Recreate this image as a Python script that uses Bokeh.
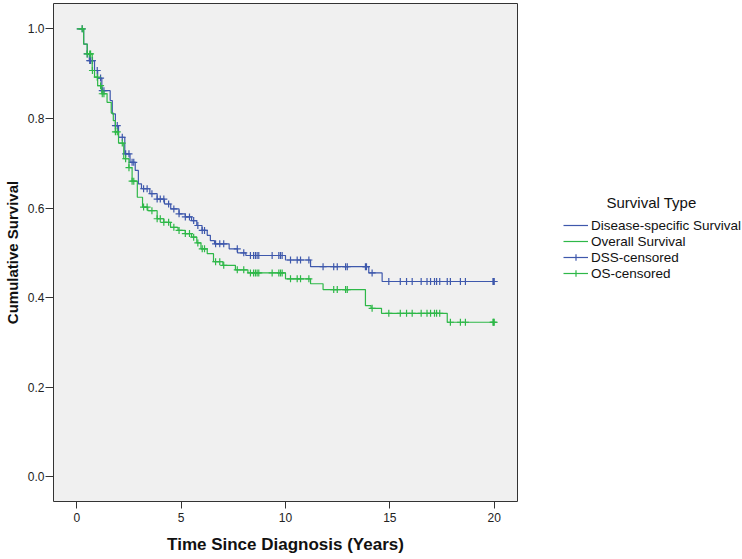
import numpy as np
from bokeh.plotting import figure
from bokeh.layouts import row
from bokeh.models import Range1d, FixedTicker, PrintfTickFormatter, Legend, LegendItem, Label
from bokeh.embed import file_html
from bokeh.resources import INLINE

# ---------------- data ----------------
# Overall survival: event times (years) and survival after each drop
os_time = [0.33, 0.5, 0.74, 0.85, 1.0, 1.2, 1.45, 1.65, 1.75, 1.85, 2.0, 2.25, 2.5,
           2.65, 2.9, 3.15, 3.4, 3.85, 4.17, 4.49, 4.85, 5.2, 5.5, 5.75, 5.95, 6.25,
           6.55, 7.0, 7.6, 8.2, 10.0, 11.2, 11.8, 13.83, 14.1, 14.6, 17.75]
os_surv = [0.966, 0.944, 0.907, 0.892, 0.873, 0.855, 0.836, 0.812, 0.795, 0.77, 0.745,
           0.71, 0.69, 0.66, 0.624, 0.602, 0.594, 0.576, 0.568, 0.557, 0.55, 0.543,
           0.535, 0.522, 0.509, 0.498, 0.48, 0.472, 0.462, 0.455, 0.442, 0.431, 0.418,
           0.382, 0.376, 0.365, 0.345]

# Disease-specific survival
dss_time = [0.33, 0.5, 0.6, 0.85, 1.0, 1.2, 1.6, 1.7, 1.85, 2.0, 2.3, 2.55, 2.8, 2.95,
            3.1, 3.5, 3.85, 4.2, 4.5, 4.9, 5.2, 5.5, 5.75, 6.0, 6.25, 6.4, 6.6, 7.3,
            7.7, 8.1, 10.0, 11.2, 13.99, 14.63]
dss_surv = [0.966, 0.944, 0.929, 0.907, 0.89, 0.862, 0.84, 0.81, 0.784, 0.758, 0.721,
            0.702, 0.684, 0.654, 0.643, 0.632, 0.62, 0.609, 0.598, 0.587, 0.58, 0.572,
            0.561, 0.55, 0.539, 0.527, 0.52, 0.509, 0.5, 0.494, 0.484, 0.469, 0.455,
            0.436]

# censoring times shared by both analyses
censor_both = [0.26, 0.5, 0.62, 0.66, 0.75, 0.98, 1.14, 1.22, 1.3, 1.85, 1.94, 2.18,
               2.34, 2.5, 2.65, 2.73, 3.2, 3.37, 3.6, 3.85, 4.0, 4.17, 4.4, 4.65, 4.9,
               5.2, 5.4, 5.6, 5.8, 6.01, 6.12, 6.65, 6.85, 7.04, 7.69, 8.0, 8.32, 8.47,
               8.56, 8.64, 8.72, 9.36, 9.68, 9.76, 9.84, 10.24, 10.56, 10.72, 11.12,
               12.31, 12.48, 12.88, 12.96, 14.15, 14.95, 15.5, 15.8, 16.07, 16.5,
               16.78, 16.95, 17.14, 17.24, 17.39, 17.9, 18.38, 18.62, 19.94, 19.97, 20.0]
# extra censorings in DSS (deaths from other causes)
dss_extra_censor = [11.8, 13.83, 13.88, 17.75]

x_ticks = [0, 5, 10, 15, 20]
y_ticks = [0.0, 0.2, 0.4, 0.6, 0.8, 1.0]
series_names = ["Disease-specific Survival", "Overall Survival", "DSS-censored", "OS-censored"]
legend_title = "Survival Type"
x_title = "Time Since Diagnosis (Years)"
y_title = "Cumulative Survival"

BLUE = "#3E58AC"
GREEN = "#2EB848"
FONT = "Liberation Sans"
H = 558
FRAME_BOTTOM = 501  # pixel row of the plot frame's bottom edge


def step_xy(times, surv, end):
    x = [0.0] + list(times) + [end]
    y = [1.0] + list(surv) + [surv[-1]]
    return x, y


def surv_at(times, surv, ts):
    t = np.asarray(times)
    s = np.concatenate([[1.0], np.asarray(surv)])
    idx = np.searchsorted(t, np.asarray(ts), side="right")
    return s[idx]


end_t = max(censor_both)
dss_cens_t = sorted(censor_both + dss_extra_censor)
os_cens_t = censor_both

p = figure(width=518, height=H, output_backend="svg", toolbar_location=None,
           x_range=Range1d(-1.116, 21.116), y_range=Range1d(-0.0551, 1.0565),
           min_border_left=53, min_border_right=1, min_border_top=3,
           min_border_bottom=H - FRAME_BOTTOM)

p.background_fill_color = "#F0F0F0"
p.border_fill_color = "white"
p.outline_line_color = "#333333"
p.outline_line_width = 1
p.xgrid.visible = False
p.ygrid.visible = False

dx, dy = step_xy(dss_time, dss_surv, end_t)
ox, oy = step_xy(os_time, os_surv, end_t)

p.step(dx, dy, mode="after", line_color=BLUE, line_width=1.2)
p.scatter(dss_cens_t, surv_at(dss_time, dss_surv, dss_cens_t), marker="cross",
          size=7, line_color=BLUE, line_width=1.2)
p.step(ox, oy, mode="after", line_color=GREEN, line_width=1.2)
p.scatter(os_cens_t, surv_at(os_time, os_surv, os_cens_t), marker="cross",
          size=7, line_color=GREEN, line_width=1.2)

# axes
for ax in (p.xaxis[0], p.yaxis[0]):
    ax.axis_line_color = None
    ax.major_tick_line_color = "#333333"
    ax.major_tick_in = 0
    ax.minor_tick_line_color = None
    ax.major_label_text_font = FONT
    ax.major_label_text_font_size = "12px"
    ax.major_label_text_color = "#222222"
    ax.axis_label_text_font = FONT
    ax.axis_label_text_font_style = "bold"
    ax.axis_label_text_color = "#111111"

p.xaxis.ticker = FixedTicker(ticks=x_ticks)
p.yaxis.ticker = FixedTicker(ticks=y_ticks)
p.yaxis.formatter = PrintfTickFormatter(format="%.1f")
p.xaxis.axis_label = x_title
p.yaxis.axis_label = y_title
p.xaxis.axis_label_text_font_size = "17px"
p.yaxis.axis_label_text_font_size = "15px"
p.xaxis.major_tick_out = 7
p.xaxis.major_label_standoff = 4
p.xaxis.axis_label_standoff = 10
p.yaxis.major_tick_out = 8
p.yaxis.major_label_standoff = 1
p.yaxis.axis_label_standoff = 4

# ---------------- legend panel ----------------
p2 = figure(width=742 - 518, height=H, output_backend="svg", toolbar_location=None,
            x_axis_type=None, y_axis_type=None, min_border=0,
            x_range=Range1d(0, 1), y_range=Range1d(0, 1))
p2.outline_line_color = None
p2.background_fill_color = "white"
p2.border_fill_color = "white"

nan = [float("nan")]
l_dss = p2.line(x=nan, y=nan, line_color=BLUE, line_width=1.2)
l_os = p2.line(x=nan, y=nan, line_color=GREEN, line_width=1.2)
c_dss = p2.scatter(x=nan, y=nan, marker="cross", size=10, line_color=BLUE, line_width=1.2)
c_os = p2.scatter(x=nan, y=nan, marker="cross", size=10, line_color=GREEN, line_width=1.2)

legend = Legend(items=[
    LegendItem(label=series_names[0], renderers=[l_dss]),
    LegendItem(label=series_names[1], renderers=[l_os]),
    LegendItem(label=series_names[2], renderers=[l_dss, c_dss]),
    LegendItem(label=series_names[3], renderers=[l_os, c_os]),
], location=(45, FRAME_BOTTOM - 281))
legend.border_line_color = None
legend.background_fill_alpha = 0
legend.padding = 0
legend.margin = 0
legend.spacing = 0
legend.label_height = 16
legend.glyph_height = 16
legend.glyph_width = 25
legend.label_standoff = 3
legend.label_text_font = FONT
legend.label_text_font_size = "13.5px"
legend.label_text_color = "#111111"
p2.add_layout(legend, "center")

title_lbl = Label(x=133, y=FRAME_BOTTOM - 202, x_units="screen", y_units="screen",
                  text=legend_title, text_align="center", text_baseline="middle",
                  text_font=FONT, text_font_size="15px", text_color="#111111")
p2.add_layout(title_lbl)

open("out.html", "w").write(file_html(row(p, p2), INLINE))
